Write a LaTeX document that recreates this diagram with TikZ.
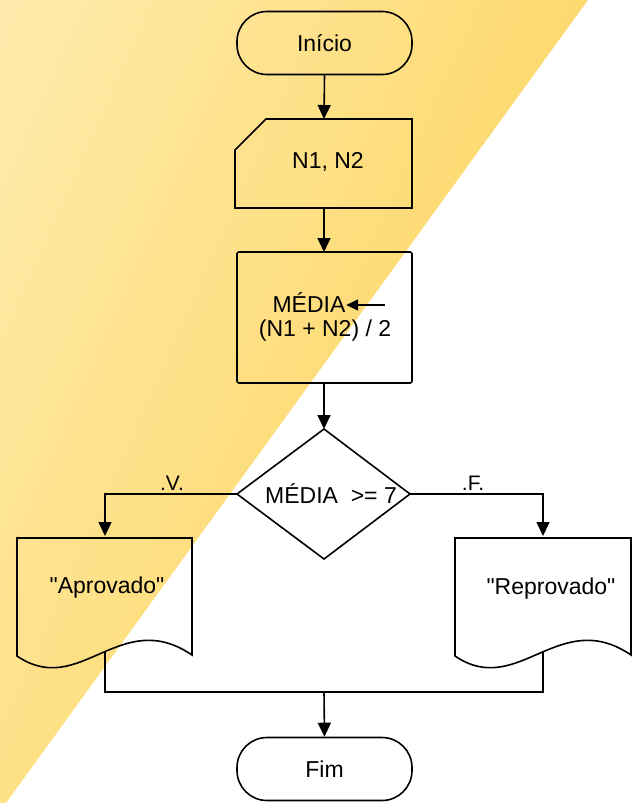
\documentclass[tikz,border=0pt]{standalone}
\usepackage{fontspec}
\setmainfont{Liberation Sans}[Ligatures=TeXOff]
\usetikzlibrary{arrows.meta}
\definecolor{ylight}{RGB}{255,235,173}
\definecolor{ydeep}{RGB}{253,218,112}
\begin{document}
\begin{tikzpicture}[x=1pt,y=-1pt,line width=1.6pt,
  conn/.style={draw,-{Triangle[width=13pt,length=14pt]}},
  txt/.style={font=\fontsize{23}{27}\selectfont,inner sep=0pt},
  lbl/.style={font=\fontsize{21}{25}\selectfont,inner sep=0pt,anchor=south},
  term/.style={draw,rounded corners=30pt,minimum width=175pt,minimum height=63pt,
    font=\fontsize{23}{27}\selectfont,inner sep=0pt}]
\useasboundingbox (0,0) rectangle (636,803);
% background
\begin{scope}
  \clip (0,0) -- (588,0) -- (6,803) -- (0,803) -- cycle;
  \begin{scope}[rotate=-24]
    \pgflowlevelsynccm
    \shade[left color=ylight,right color=ydeep] (0,-900) rectangle (537,900);
  \end{scope}
\end{scope}

% start
\node[term] (start) at (324.5,43) {Início};

% input
\draw (266,119) -- (412,119) -- (412,208) -- (235,208) -- (235,150) -- cycle;
\coordinate (intop) at (324,119);
\coordinate (inbot) at (324,208);
\node[txt] (inp) at (328,162) {N1, N2};

% process
\draw[rounded corners=2pt] (237,252) rectangle (412,383);
\coordinate (prtop) at (324,252);
\coordinate (prbot) at (324,383);
\node[txt] (media) at (309,303) {MÉDIA};
\node[txt] (calc) at (325,331) {(N1 + N2) / 2};
\coordinate (arrstart) at (385,305);
\draw[-{Triangle[width=11pt,length=12pt]}] (arrstart) -- (media.east |- arrstart);

% decision
\coordinate (dtop) at (324,429);
\coordinate (dright) at (410,494);
\coordinate (dbot) at (324,559);
\coordinate (dleft) at (237,494);
\draw (dtop) -- (dright) -- (dbot) -- (dleft) -- cycle;
\node[txt] (cond) at (331,494) {MÉDIA\ \ >= 7};

% documents
\draw (17,538) -- (192,538) -- (192,655) .. controls (120,606) and (80,699) .. (17,656) -- cycle;
\node[txt] (aprov) at (107,588) {"Aprovado"};
\coordinate (aptop) at (105,536);
\coordinate (apbot) at (105,651);

\draw (455,538) -- (631,538) -- (631,655) .. controls (559,606) and (518,699) .. (455,656) -- cycle;
\node[txt] (reprov) at (551,589) {"Reprovado"};
\coordinate (reptop) at (543,536);
\coordinate (repbot) at (543,651);

% end
\node[term] (fim) at (324.5,769) {Fim};

% connectors
\draw[conn] (start.south) -- (intop);
\draw[conn] (inbot) -- (prtop);
\draw[conn] (prbot) -- (dtop);
\draw[conn] (dleft) -| (aptop);
\draw[conn] (dright) -| (reptop);
\node[lbl] (lv) at (172,491) {.V.};
\node[lbl] (lf) at (473,491) {.F.};
\coordinate (j1) at (105,692);
\coordinate (j2) at (543,692);
\coordinate (merge) at (324,692);
\draw (apbot) -- (j1) -- (j2) -- (repbot);
\draw[conn] (merge) -- (fim.north);
\end{tikzpicture}
\end{document}
